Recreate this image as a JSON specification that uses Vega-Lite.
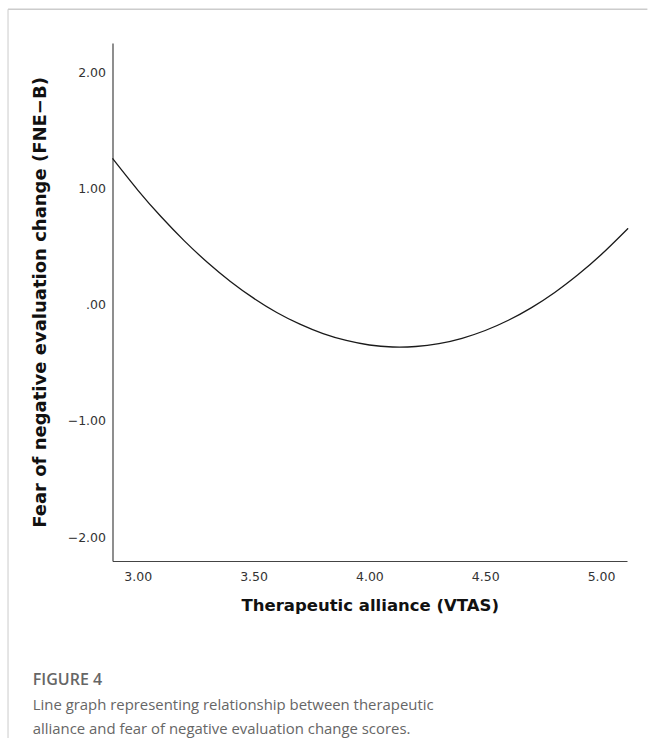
{
  "$schema": "https://vega.github.io/schema/vega-lite/v6.json",
  "width": 514.5,
  "height": 518,
  "autosize": {"type": "none"},
  "padding": {"left": 112.5, "top": 43, "right": 21, "bottom": 177},
  "background": "white",
  "config": {"view": {"stroke": null}},
  "title": {
    "text": "FIGURE 4",
    "subtitle": ["Line graph representing relationship between therapeutic", "alliance and fear of negative evaluation change scores."],
    "orient": "bottom",
    "anchor": "start",
    "dx": 25.5,
    "offset": -67,
    "font": "Open Sans",
    "fontSize": 16,
    "fontWeight": 600,
    "color": "#666666",
    "subtitleFont": "Open Sans",
    "subtitleFontSize": 14.9,
    "subtitleColor": "#666666",
    "subtitleLineHeight": 24.5,
    "subtitlePadding": 10
  },
  "datasets": {
    "curve": [
      {"vtas": 2.891, "fne": 1.257},
      {"vtas": 3.0, "fne": 0.985},
      {"vtas": 3.1, "fne": 0.757},
      {"vtas": 3.2, "fne": 0.55},
      {"vtas": 3.3, "fne": 0.364},
      {"vtas": 3.4, "fne": 0.199},
      {"vtas": 3.5, "fne": 0.055},
      {"vtas": 3.6, "fne": -0.068},
      {"vtas": 3.7, "fne": -0.169},
      {"vtas": 3.8, "fne": -0.25},
      {"vtas": 3.9, "fne": -0.309},
      {"vtas": 4.0, "fne": -0.348},
      {"vtas": 4.1, "fne": -0.365},
      {"vtas": 4.2, "fne": -0.361},
      {"vtas": 4.3, "fne": -0.336},
      {"vtas": 4.4, "fne": -0.29},
      {"vtas": 4.5, "fne": -0.223},
      {"vtas": 4.6, "fne": -0.135},
      {"vtas": 4.7, "fne": -0.026},
      {"vtas": 4.8, "fne": 0.104},
      {"vtas": 4.9, "fne": 0.256},
      {"vtas": 5.0, "fne": 0.428},
      {"vtas": 5.1, "fne": 0.622},
      {"vtas": 5.112, "fne": 0.646}
    ],
    "frame": [{"fx": 2.44, "fx2": 5.2, "fy": 2.54, "fy2": -3.73}]
  },
  "layer": [
    {
      "data": {"name": "curve"},
      "mark": {"type": "line", "interpolate": "natural", "color": "#1a1a1a", "strokeWidth": 1.3},
      "encoding": {
        "x": {
          "field": "vtas", "type": "quantitative",
          "scale": {"domain": [2.891, 5.112], "nice": false, "zero": false},
          "axis": {
            "title": "Therapeutic alliance (VTAS)",
            "values": [3, 3.5, 4, 4.5, 5],
            "format": ".2f",
            "ticks": false,
            "grid": false,
            "domainColor": "#444444",
            "domainWidth": 1.2,
            "labelFont": "DejaVu Sans",
            "labelFontSize": 12.5,
            "labelColor": "#333333",
            "labelPadding": 9,
            "labelFlush": false,
            "titleFont": "DejaVu Sans",
            "titleFontSize": 16.5,
            "titleFontWeight": "bold",
            "titleColor": "#111111",
            "titlePadding": 15
          }
        },
        "y": {
          "field": "fne", "type": "quantitative",
          "scale": {"domain": [-2.206, 2.25], "nice": false, "zero": false},
          "axis": {
            "title": "Fear of negative evaluation change (FNE\u2212B)",
            "values": [2, 1, 0, -1, -2],
            "labelExpr": "datum.value == 0 ? '.00' : format(datum.value, '.2f')",
            "ticks": false,
            "grid": false,
            "domainColor": "#444444",
            "domainWidth": 1.2,
            "labelFont": "DejaVu Sans",
            "labelFontSize": 12.5,
            "labelColor": "#333333",
            "labelPadding": 7,
            "labelFlush": false,
            "titleFont": "DejaVu Sans",
            "titleFontSize": 18,
            "titleFontWeight": "bold",
            "titleColor": "#111111",
            "titlePadding": 18
          }
        }
      }
    },
    {
      "data": {"name": "frame"},
      "mark": {"type": "rule", "color": "#cccccc", "strokeWidth": 1},
      "encoding": {
        "x": {"field": "fx", "type": "quantitative"},
        "y": {"field": "fy", "type": "quantitative"},
        "y2": {"field": "fy2"}
      }
    },
    {
      "data": {"name": "frame"},
      "mark": {"type": "rule", "color": "#cccccc", "strokeWidth": 1.5},
      "encoding": {
        "x": {"field": "fx", "type": "quantitative"},
        "x2": {"field": "fx2"},
        "y": {"field": "fy", "type": "quantitative"}
      }
    }
  ]
}
